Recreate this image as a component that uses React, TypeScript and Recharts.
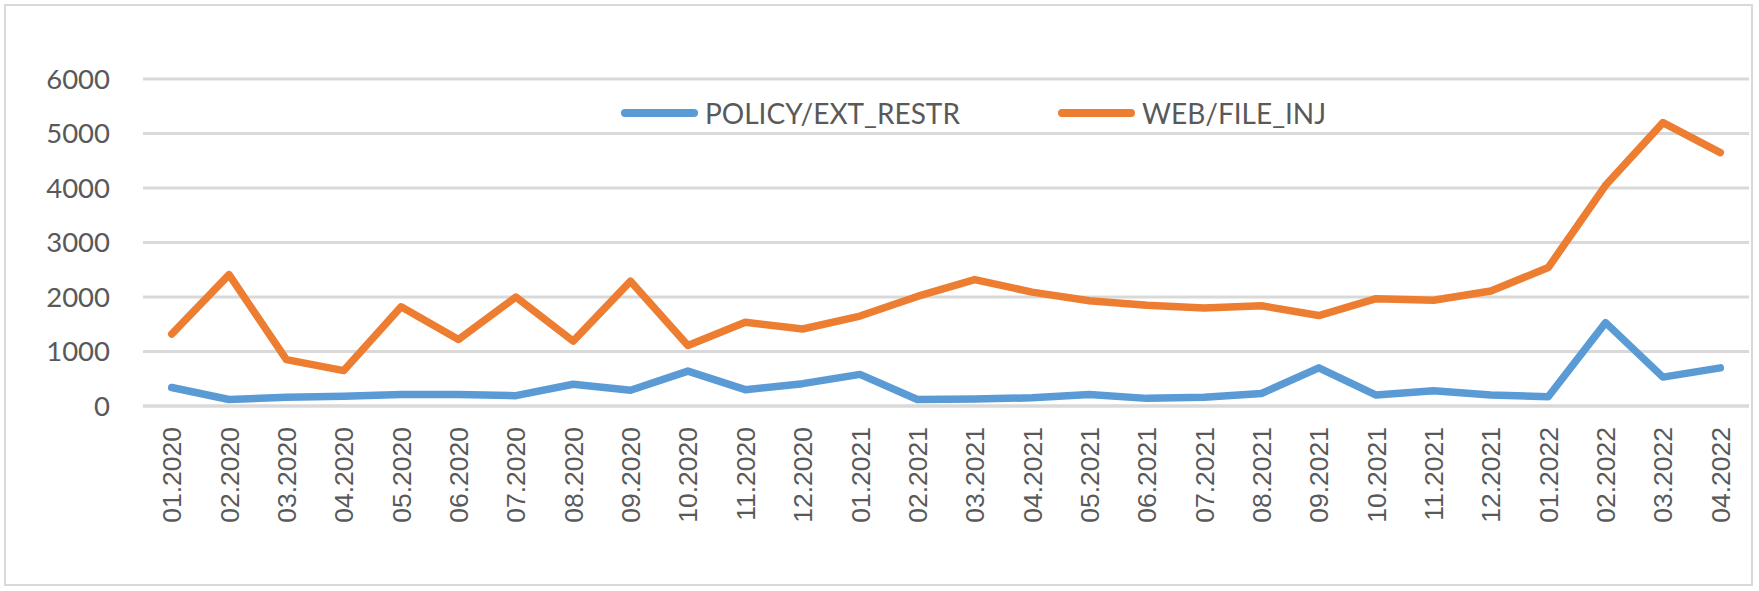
import React from 'react';
import { LineChart, Line, XAxis, YAxis, CartesianGrid } from 'recharts';

const categories = [
  '01.2020', '02.2020', '03.2020', '04.2020', '05.2020', '06.2020', '07.2020', '08.2020', '09.2020', '10.2020', '11.2020', '12.2020',
  '01.2021', '02.2021', '03.2021', '04.2021', '05.2021', '06.2021', '07.2021', '08.2021', '09.2021', '10.2021', '11.2021', '12.2021',
  '01.2022', '02.2022', '03.2022', '04.2022',
];
const policyExtRestr = [
  340, 120, 160, 180, 210, 210, 190, 400, 290, 640, 300, 410,
  580, 120, 130, 150, 210, 140, 160, 230, 700, 200, 280, 200,
  170, 1530, 530, 700,
];
const webFileInj = [
  1320, 2410, 850, 650, 1820, 1220, 2000, 1190, 2290, 1110, 1535, 1413,
  1650, 2010, 2320, 2090, 1930, 1850, 1800, 1840, 1660, 1970, 1940, 2110,
  2540, 4050, 5200, 4650,
];
const yTicks = [0, 1000, 2000, 3000, 4000, 5000, 6000];
const seriesNames = ['POLICY/EXT_RESTR', 'WEB/FILE_INJ'];
const seriesColors = ['#5B9BD5', '#ED7D31'];

const data = categories.map((c, i) => ({
  month: c,
  policy: policyExtRestr[i],
  web: webFileInj[i],
}));

const TEXT = '#595959';
const GRID = '#d9d9d9';

const XTick = (props: any) => {
  const { x, y, payload } = props;
  return (
    <g transform={`translate(${x},${y})`}>
      <text
        transform="rotate(-90)"
        textAnchor="end"
        dy="0.36em"
        fill={TEXT}
        fontFamily="'Liberation Sans', Arial, sans-serif"
        fontSize={26.5}
      >
        {payload.value}
      </text>
    </g>
  );
};

const legendPos = [621, 1058];

export default function App() {
  return (
    <div style={{ position: 'absolute', left: 0, top: 0, width: 1759, height: 591, background: '#fff' }}>
      <div
        style={{
          position: 'absolute',
          left: 4,
          top: 4,
          width: 1749,
          height: 582,
          boxSizing: 'border-box',
          border: `2px solid ${GRID}`,
        }}
      />
      <div style={{ position: 'absolute', left: 0, top: 0 }}>
        <LineChart width={1759} height={591} data={data} margin={{ top: 79, right: 10, bottom: 65, left: 0 }}>
          <CartesianGrid vertical={false} stroke={GRID} strokeWidth={2.8} />
          <XAxis
            dataKey="month"
            interval={0}
            height={120}
            tickLine={false}
            tickSize={0}
            tickMargin={21}
            padding={{ left: 28.7, right: 28.7 }}
            axisLine={{ stroke: GRID, strokeWidth: 2.8 }}
            tick={<XTick />}
          />
          <YAxis
            domain={[0, 6000]}
            ticks={yTicks}
            width={143}
            axisLine={false}
            tickLine={false}
            tickSize={0}
            tickMargin={33}
            tick={{ fill: TEXT, fontFamily: 'Lato, sans-serif', fontSize: 27.5 }}
          />
          <Line
            type="linear"
            dataKey="policy"
            name={seriesNames[0]}
            stroke={seriesColors[0]}
            strokeWidth={7.5}
            strokeLinecap="round"
            strokeLinejoin="round"
            dot={false}
            isAnimationActive={false}
          />
          <Line
            type="linear"
            dataKey="web"
            name={seriesNames[1]}
            stroke={seriesColors[1]}
            strokeWidth={7.5}
            strokeLinecap="round"
            strokeLinejoin="round"
            dot={false}
            isAnimationActive={false}
          />
        </LineChart>
      </div>
      {seriesNames.map((name, i) => (
        <div
          key={name}
          style={{
            position: 'absolute',
            left: legendPos[i],
            top: 93,
            height: 40,
            display: 'flex',
            alignItems: 'center',
            whiteSpace: 'nowrap',
          }}
        >
          <svg width={84} height={12} style={{ display: 'block' }}>
            <line x1={4} y1={6} x2={73} y2={6} stroke={seriesColors[i]} strokeWidth={8} strokeLinecap="round" />
          </svg>
          <span style={{ fontFamily: 'Lato, sans-serif', fontSize: 28, color: TEXT }}>{name}</span>
        </div>
      ))}
    </div>
  );
}
